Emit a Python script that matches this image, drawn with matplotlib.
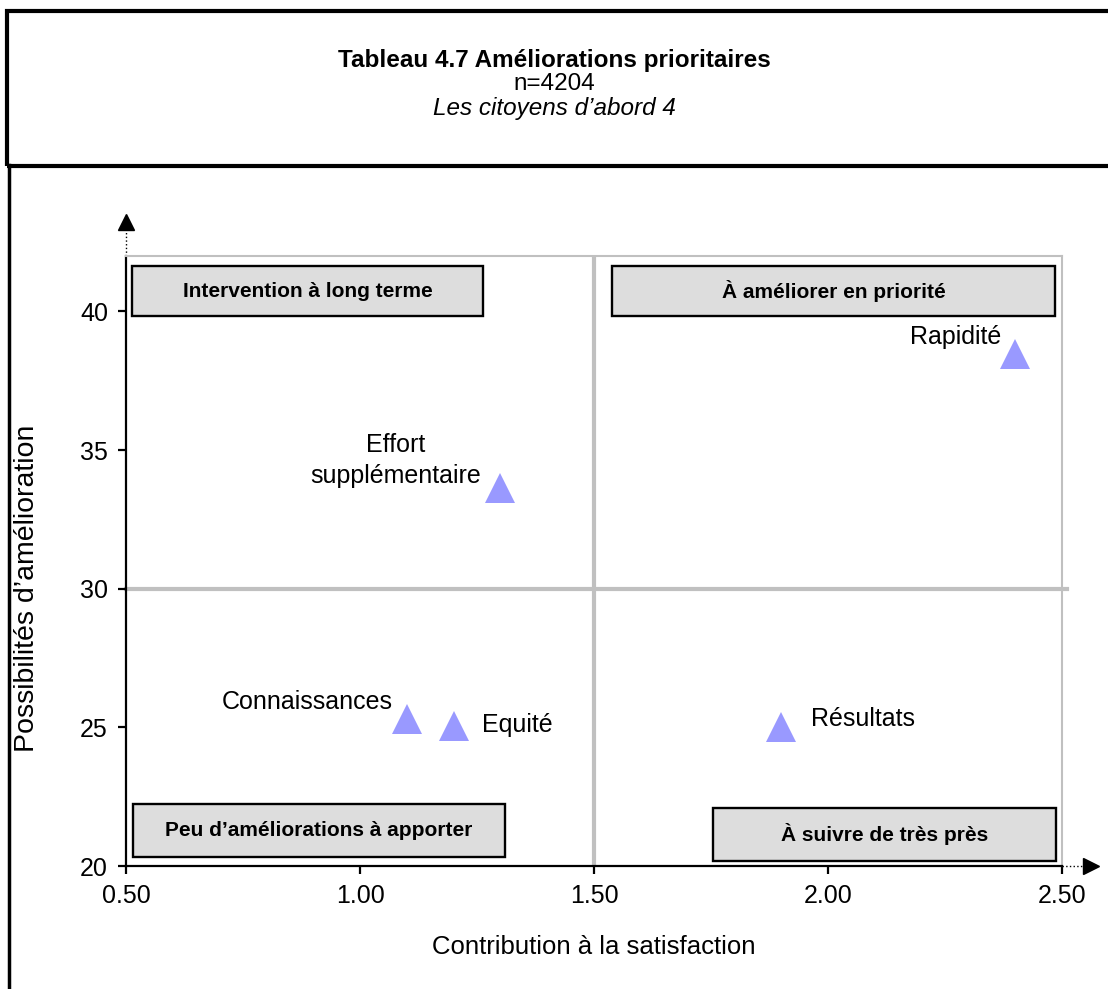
import matplotlib
matplotlib.use("Agg")
import matplotlib.pyplot as plt
from matplotlib.patches import Rectangle
from matplotlib.lines import Line2D

plt.rcParams["font.family"] = ["Liberation Sans", "DejaVu Sans"]

# Dimensions évaluées
criteres = ["Rapidité", "Effort\nsupplémentaire", "Connaissances", "Equité", "Résultats"]
contribution = [2.40, 1.30, 1.10, 1.20, 1.90]
possibilites = [38.45, 33.65, 25.30, 25.05, 25.00]

# position des étiquettes (pixels, ha)
decalages = [(-14, 17, "right"), (-19, 27, "right"), (-14, 17, "right"),
             (28, 1, "left"), (30, 8, "left")]

# Quadrants : (texte, x0, x1, y0, y1)
quadrants = [
    ("Intervention à long terme", 0.513, 1.263, 39.83, 41.63),
    ("À améliorer en priorité", 1.538, 2.485, 39.83, 41.63),
    ("Peu d’améliorations à apporter", 0.515, 1.31, 20.33, 22.24),
    ("À suivre de très près", 1.754, 2.487, 20.18, 22.10),
]

x_ticks = [0.5, 1.0, 1.5, 2.0, 2.5]
y_ticks = [20, 25, 30, 35, 40]

W, H = 1108, 989
fig = plt.figure(figsize=(W / 100, H / 100), dpi=100)
ax = fig.add_axes([126 / W, 1 - 866 / H, (1062 - 126) / W, (866 - 256) / H])
ax.set_xlim(0.5, 2.5)
ax.set_ylim(20, 42)

# lignes de séparation des quadrants
ax.axvline(1.5, color="#C0C0C0", lw=3, zorder=1)
ax.plot([0.5, 2.51], [30, 30], color="#C0C0C0", lw=3, zorder=1, clip_on=False)

for txt, x0, x1, y0, y1 in quadrants:
    ax.add_patch(Rectangle((x0, y0), x1 - x0, y1 - y0, facecolor="#DDDDDD",
                           edgecolor="black", lw=1.7, zorder=3))
    ax.text((x0 + x1) / 2, (y0 + y1) / 2, txt, ha="center", va="center",
            fontsize=15, fontweight="bold", zorder=4)

ax.plot(contribution, possibilites, "^", color="#9999FF", markersize=22,
        markeredgewidth=0, zorder=5)

for nom, x, y, (dx, dy, ha) in zip(criteres, contribution, possibilites, decalages):
    ax.annotate(nom, (x, y), xytext=(dx, dy), textcoords="offset pixels",
                ha=ha, va="center", multialignment="center", fontsize=18,
                linespacing=1.35)

ax.set_xticks(x_ticks)
ax.set_xticklabels([f"{v:.2f}" for v in x_ticks])
ax.set_yticks(y_ticks)
ax.tick_params(direction="out", length=6, width=1.6, labelsize=18, pad=7)

for s in ("left", "bottom"):
    ax.spines[s].set_linewidth(1.6)
    ax.spines[s].set_color("black")
for s in ("top", "right"):
    ax.spines[s].set_linewidth(1.5)
    ax.spines[s].set_color("#C0C0C0")

ax.set_xlabel("Contribution à la satisfaction", fontsize=18.5)
ax.xaxis.set_label_coords(0.5, (866 - 947) / 610)
ax.xaxis.label.set_va("center")
ax.set_ylabel("Possibilités d’amélioration", fontsize=20.5)
ax.yaxis.set_label_coords((27 - 126) / 936, (866 - 588) / 610)
ax.yaxis.label.set_va("center")

# flèches des axes
ax.plot([0, 0], [1, 1.045], ls=":", color="black", lw=1, transform=ax.transAxes, clip_on=False)
ax.plot([0], [1.056], marker="^", color="black", markersize=12, transform=ax.transAxes, clip_on=False)
ax.plot([1, 1.023], [0, 0], ls=":", color="black", lw=1, transform=ax.transAxes, clip_on=False)
ax.plot([1.031], [0], marker=">", color="black", markersize=12, transform=ax.transAxes, clip_on=False)

# cadre du titre
fig.add_artist(Rectangle((6.5 / W, 1 - 165.5 / H), 1.2, (165.5 - 11) / H,
                         transform=fig.transFigure, fill=False, edgecolor="black", lw=3))
fig.add_artist(Line2D([8.5 / W, 8.5 / W], [0, 1 - 165 / H], transform=fig.transFigure,
                      color="black", lw=2.5))

fig.text(0.5, 1 - 60 / H, "Tableau 4.7 Améliorations prioritaires", ha="center", va="center",
         fontsize=17.5, fontweight="bold")
fig.text(0.5, 1 - 84 / H, "n=4204", ha="center", va="center", fontsize=17.5)
fig.text(0.5, 1 - 108 / H, "Les citoyens d’abord 4", ha="center", va="center",
         fontsize=17.5, style="italic")

fig.savefig("out.png", dpi=100)
